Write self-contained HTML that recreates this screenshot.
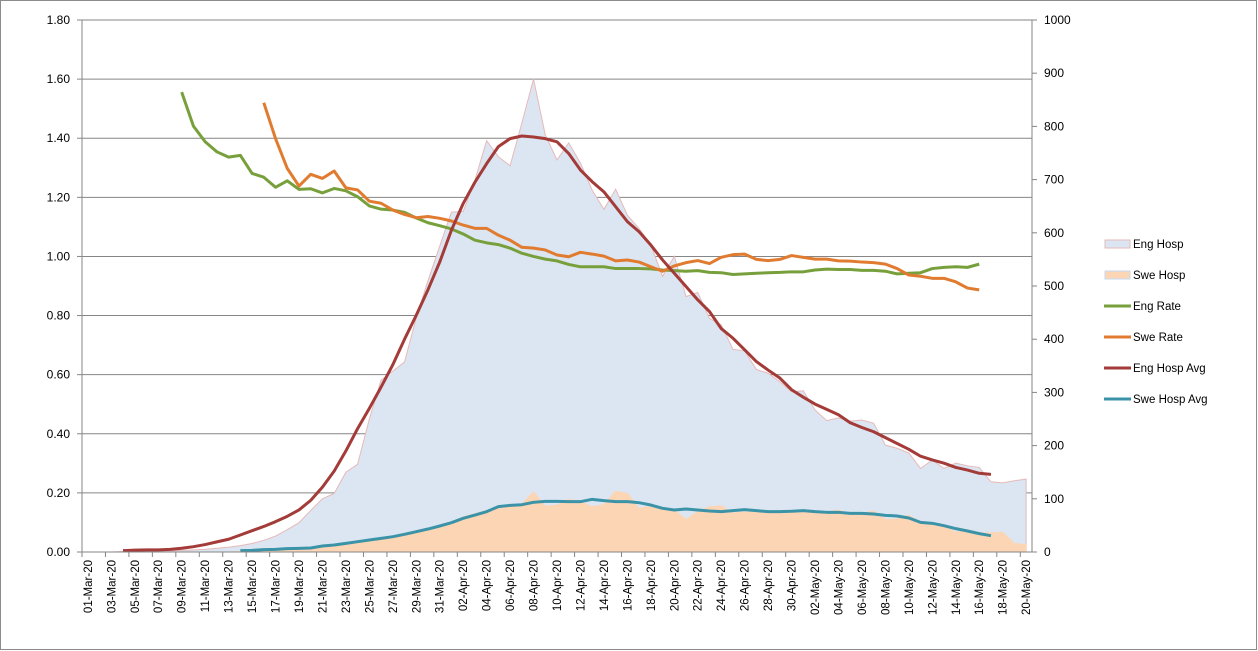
<!DOCTYPE html>
<html><head><meta charset="utf-8"><style>
html,body{margin:0;padding:0;background:#fff}
svg{display:block;font-family:"Liberation Sans",sans-serif}
</style></head><body>
<svg id="chart" width="1258" height="651" viewBox="0 0 1258 651">
<rect x="0.5" y="0.5" width="1256" height="649" fill="#fff" stroke="#8c8c8c"/>
<g id="grid"></g>
<g id="areas"></g>
<g id="lines"></g>
<g id="axes"></g>
<g id="legend"></g>
</svg>
<script>
const leftTicks=["0.00","0.20","0.40","0.60","0.80","1.00","1.20","1.40","1.60","1.80"];
const rightTicks=["0","100","200","300","400","500","600","700","800","900","1000"];
const months=[["Mar",1,31],["Apr",1,30],["May",1,20]];
const engHosp=[0,0,0,1,1,1,2,2,3,4,5,7,9,12,16,22,30,42,55,78,100,110,150,165,250,323,340,357,440,510,575,639,640,699,773,743,726,806,889,784,737,769,731,680,644,682,633,608,577,518,556,480,488,439,427,381,378,343,336,320,301,303,267,247,252,246,248,242,201,195,186,157,173,157,167,162,159,132,130,134,137];
const sweHosp=[0,0,0,0,0,0,0,0,0,0,0,0,0,1,2,3,4,5,6,7,9,10,14,18,22,26,30,35,40,45,50,56,66,72,78,85,88,90,113,86,88,99,95,85,89,114,110,82,86,82,79,61,76,85,87,73,75,75,76,76,76,77,74,75,79,71,73,77,61,62,69,56,55,48,37,42,36,36,37,16,14];
const engRateStart=8;
const engRate=[1.556,1.441,1.388,1.354,1.336,1.342,1.281,1.268,1.234,1.256,1.227,1.229,1.215,1.230,1.222,1.202,1.171,1.160,1.157,1.149,1.130,1.114,1.104,1.093,1.076,1.055,1.046,1.040,1.028,1.011,1.000,0.991,0.985,0.973,0.965,0.965,0.965,0.959,0.959,0.959,0.958,0.954,0.952,0.950,0.952,0.946,0.945,0.939,0.941,0.943,0.945,0.946,0.948,0.948,0.954,0.957,0.956,0.956,0.953,0.953,0.950,0.941,0.943,0.945,0.959,0.963,0.965,0.963,0.974];
const sweRateStart=15;
const sweRate=[1.520,1.399,1.298,1.238,1.278,1.264,1.289,1.232,1.225,1.187,1.180,1.157,1.142,1.131,1.135,1.129,1.120,1.106,1.095,1.095,1.072,1.055,1.031,1.028,1.022,1.005,0.999,1.014,1.008,1.001,0.985,0.988,0.981,0.965,0.950,0.968,0.979,0.986,0.976,0.997,1.006,1.008,0.990,0.986,0.990,1.003,0.997,0.991,0.991,0.985,0.984,0.981,0.979,0.974,0.959,0.937,0.933,0.926,0.926,0.914,0.893,0.887];
const engAvgStart=3;
const engAvg=[2.5,3.5,4,4,5,7,10,14,19,24,32,40,48,57,67,79,97,122,152,190,232,270,310,352,400,445,493,545,605,655,695,730,762,777,782,780,777,771,749,718,696,677,649,621,602,577,549,524,499,474,452,420,402,380,358,342,327,305,291,278,268,258,243,234,226,215,204,193,180,173,167,159,154,148,146];
const sweAvgStart=13;
const sweAvg=[2.5,3.1,4.4,5,6.3,6.9,7.5,11.3,13.2,16.3,19.4,22.6,25.7,28.8,33.2,38.2,43.2,48.9,55.1,63.3,69.5,75.8,85.2,87.7,88.9,93.4,95.2,95.2,94.6,94.6,99.0,96.5,94.6,94.6,92.7,88.3,82.1,78.9,80.8,78.9,77.1,75.8,77.7,79.6,77.7,75.8,75.8,76.5,77.7,75.8,74.6,74.6,72.7,72.7,71.4,68.9,67.7,63.9,55.7,53.9,49.5,43.9,39.5,34.5,30.7];

const X0=82,X1=1032,Y0=552,Y1=20,N=81,BW=(X1-X0)/N;
const xc=i=>X0+BW*(i+0.5);
const yL=v=>Y0-(v/1.8)*(Y0-Y1);
const yR=v=>Y0-(v/1000)*(Y0-Y1);
const NS="http://www.w3.org/2000/svg";
function mk(tag,parent,attrs){const e=document.createElementNS(NS,tag);for(const k in attrs)e.setAttribute(k,attrs[k]);parent.appendChild(e);return e;}
const G=document.getElementById('grid'),A=document.getElementById('areas'),L=document.getElementById('lines'),AX=document.getElementById('axes'),LG=document.getElementById('legend');

leftTicks.forEach((t,k)=>{const v=parseFloat(t),y=yL(v);
 if(k>0){const g=mk('line',G,{x1:X0,x2:X1,y1:y,y2:y,stroke:'#868686','stroke-width':1});
 
 }
 mk('line',AX,{x1:X0-5,x2:X0,y1:y,y2:y,stroke:'#868686'});
 const tx=mk('text',AX,{x:70,y:y+4,'text-anchor':'end','font-size':12,fill:'#000'});tx.textContent=t;
 
 
});
rightTicks.forEach(t=>{const y=yR(parseFloat(t));
 mk('line',AX,{x1:X1,x2:X1+5,y1:y,y2:y,stroke:'#868686'});
 const tx=mk('text',AX,{x:1044,y:y+4,'font-size':12,fill:'#000'});tx.textContent=t;
 
 
});

const labels=[];months.forEach(([m,s,e])=>{for(let d=s;d<=e;d++)labels.push((d<10?'0':'')+d+'-'+m+'-20');});

function areaPath(arr){let d='M'+xc(0)+','+Y0;arr.forEach((v,i)=>{d+=' L'+xc(i)+','+yR(v);});d+=' L'+xc(arr.length-1)+','+Y0+' Z';return d;}
const aE=mk('path',A,{d:areaPath(engHosp),fill:'#dce6f2',stroke:'#e6b9b8','stroke-width':1});


const aS=mk('path',A,{d:areaPath(sweHosp),fill:'#fcd5b5',stroke:'#fcd5b5','stroke-width':1});



function line(arr,start,yf,color,name){const pts=arr.map((v,i)=>xc(i+start)+','+yf(v)).join(' ');
 const p=mk('polyline',L,{points:pts,fill:'none',stroke:color,'stroke-width':3,'stroke-linejoin':'round'});
 
 }
line(engRate,engRateStart,yL,'#77a03c','eng-rate-line');
line(sweRate,sweRateStart,yL,'#e07b30','swe-rate-line');
line(engAvg,engAvgStart,yR,'#a33b39','eng-hosp-avg-line');
line(sweAvg,sweAvgStart,yR,'#3b93a8','swe-hosp-avg-line');

mk('line',AX,{x1:X0,x2:X0,y1:Y1,y2:Y0,stroke:'#868686'});
mk('line',AX,{x1:X1,x2:X1,y1:Y1,y2:Y0,stroke:'#868686'});
mk('line',AX,{x1:X0,x2:X1,y1:Y0,y2:Y0,stroke:'#868686'});
for(let i=0;i<=N;i+=2){const x=X0+BW*i;mk('line',AX,{x1:x,x2:x,y1:Y0,y2:Y0+5,stroke:'#868686'});}
labels.forEach((t,i)=>{if(i%2)return;const x=xc(i)+4;
 const tx=mk('text',AX,{x:0,y:0,transform:'translate('+x+',560) rotate(-90)','text-anchor':'end','font-size':11.5,fill:'#000'});tx.textContent=t;
 
 });

const leg=[["Eng Hosp","box","#dce6f2","#e6b9b8"],["Swe Hosp","box","#fcd5b5","#c6d9f0"],["Eng Rate","line","#77a03c"],["Swe Rate","line","#e07b30"],["Eng Hosp Avg","line","#a33b39"],["Swe Hosp Avg","line","#3b93a8"]];
leg.forEach((e,k)=>{const y=244+k*31;const g=mk('g',LG,{});
 
 
 if(e[1]=='box')mk('rect',g,{x:1105,y:y-4,width:25,height:8,fill:e[2],stroke:e[3]});
 else mk('line',g,{x1:1104,x2:1131,y1:y,y2:y,stroke:e[2],'stroke-width':3});
 const tx=mk('text',g,{x:1133,y:y+4,'font-size':11.5,fill:'#000'});tx.textContent=e[0];});
</script>
</body></html>
